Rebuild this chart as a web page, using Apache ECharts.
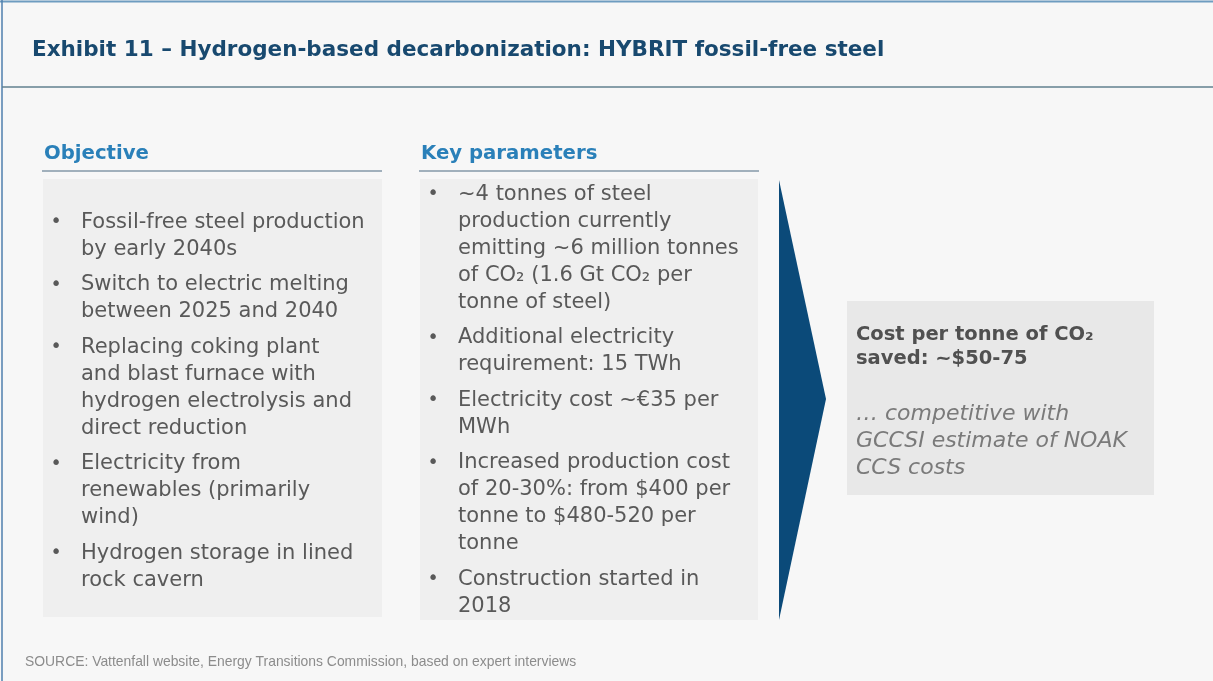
<!DOCTYPE html>
<html>
<head>
<meta charset="utf-8">
<script src="https://cdn.jsdelivr.net/npm/echarts@6/dist/echarts.min.js"></script>
<style>
  html, body { margin: 0; padding: 0; background: #f7f7f7; }
  #chart { width: 1213px; height: 681px; }
</style>
</head>
<body>
<div id="chart"></div>
<script>
// Texts of the exhibit, line breaks kept as in the original slide
let titleText = "Exhibit 11 \u2013 Hydrogen-based decarbonization: HYBRIT fossil-free steel";
let headings = ["Objective", "Key parameters"];
let objectiveItems = [
  ["Fossil-free steel production", "by early 2040s"],
  ["Switch to electric melting", "between 2025 and 2040"],
  ["Replacing coking plant", "and blast furnace with", "hydrogen electrolysis and", "direct reduction"],
  ["Electricity from", "renewables (primarily", "wind)"],
  ["Hydrogen storage in lined", "rock cavern"]
];
let keyParamItems = [
  ["~4 tonnes of steel", "production currently", "emitting ~6 million tonnes", "of CO\u2082 (1.6 Gt CO\u2082 per", "tonne of steel)"],
  ["Additional electricity", "requirement: 15 TWh"],
  ["Electricity cost ~\u20ac35 per", "MWh"],
  ["Increased production cost", "of 20-30%: from $400 per", "tonne to $480-520 per", "tonne"],
  ["Construction started in", "2018"]
];
let costLines = ["Cost per tonne of CO\u2082", "saved: ~$50-75"];
let noteLines = ["\u2026 competitive with", "GCCSI estimate of NOAK", "CCS costs"];
let sourceText = "SOURCE: Vattenfall website, Energy Transitions Commission, based on expert interviews";

const FONT = "'DejaVu Sans', sans-serif";
const BODY = "#595959";

let chart = echarts.init(document.getElementById("chart"), null, { renderer: "canvas" });

// Build a bulleted list: lines inside an item are lineH apart, items get an extra gap
let bulletList = (items, x, y0, lineH, gap) => {
  let out = [];
  let y = y0;
  items.forEach((lines) => {
    out.push({
      type: "text", x: x, y: y,
      style: { text: "\u2022", font: "19px " + FONT, fill: BODY, textAlign: "center", textVerticalAlign: "middle" }
    });
    lines.forEach((line) => {
      out.push({
        type: "text", x: x + 25, y: y,
        style: { text: line, font: "21px " + FONT, fill: BODY, textVerticalAlign: "middle" }
      });
      y += lineH;
    });
    y += gap;
  });
  return out;
};

let elements = [
  // frame
  { type: "rect", shape: { x: 0, y: 0, width: 1213, height: 681 }, style: { fill: "#f7f7f7" } },
  { type: "line", shape: { x1: 0, y1: 1.5, x2: 1213, y2: 1.5 }, style: { stroke: "#6e9cc0", lineWidth: 2 } },
  { type: "line", shape: { x1: 2, y1: 0, x2: 2, y2: 681 }, style: { stroke: "#4f7fae", lineWidth: 1.5 } },
  { type: "line", shape: { x1: 2, y1: 87, x2: 1213, y2: 87 }, style: { stroke: "#62808f", lineWidth: 1.5 } },
  // title
  {
    type: "text", x: 32, y: 50,
    style: { text: titleText, font: "bold 21.5px " + FONT, fill: "#18496f", textVerticalAlign: "middle" }
  },
  // column headings
  { type: "text", x: 44, y: 154, style: { text: headings[0], font: "bold 19.7px " + FONT, fill: "#2a80b9", textVerticalAlign: "middle" } },
  { type: "text", x: 421, y: 154, style: { text: headings[1], font: "bold 19.7px " + FONT, fill: "#2a80b9", textVerticalAlign: "middle" } },
  { type: "line", shape: { x1: 42, y1: 171, x2: 382, y2: 171 }, style: { stroke: "#8498a8", lineWidth: 1.5 } },
  { type: "line", shape: { x1: 419, y1: 171, x2: 759, y2: 171 }, style: { stroke: "#8498a8", lineWidth: 1.5 } },
  // grey panels
  { type: "rect", shape: { x: 43, y: 179, width: 339, height: 438 }, style: { fill: "#efefef" } },
  { type: "rect", shape: { x: 420, y: 179, width: 338, height: 441 }, style: { fill: "#efefef" } },
  // arrow
  {
    type: "polygon",
    shape: { points: [[779, 180], [826, 399], [779, 620]] },
    style: { fill: "#0b4a79" }
  },
  // result box
  { type: "rect", shape: { x: 847, y: 301, width: 307, height: 194 }, style: { fill: "#e8e8e8" } }
];

elements = elements.concat(bulletList(objectiveItems, 56, 222.5, 27, 8.5));
elements = elements.concat(bulletList(keyParamItems, 433, 194.5, 27, 8.5));

costLines.forEach((line, i) => {
  elements.push({
    type: "text", x: 856, y: 335 + i * 24,
    style: { text: line, font: "bold 19.5px " + FONT, fill: "#505050", textVerticalAlign: "middle" }
  });
});
noteLines.forEach((line, i) => {
  elements.push({
    type: "text", x: 856, y: 414.5 + i * 27,
    style: { text: line, font: "italic 22px " + FONT, fill: "#7a7a7a", textVerticalAlign: "middle" }
  });
});

elements.push({
  type: "text", x: 25, y: 662,
  style: { text: sourceText, font: "13.9px 'Liberation Sans', Arial, sans-serif", fill: "#8c8c8c", textVerticalAlign: "middle" }
});

chart.setOption({
  backgroundColor: "#f7f7f7",
  animation: false,
  graphic: { elements: elements }
});
</script>
</body>
</html>
